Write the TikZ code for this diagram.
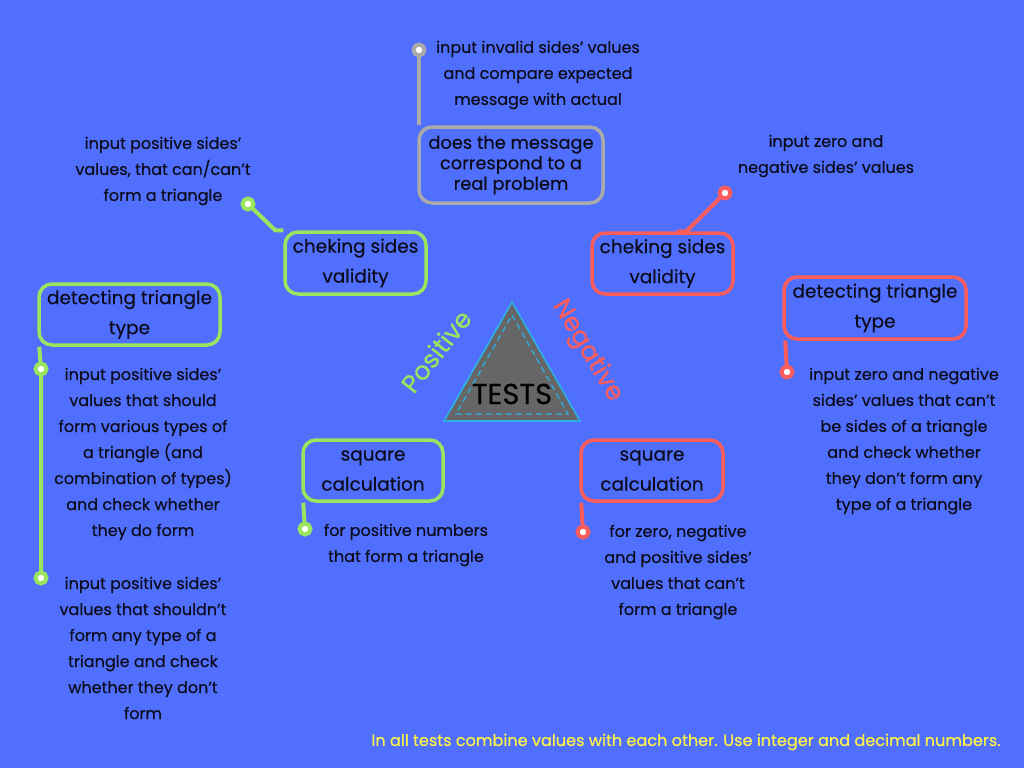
\documentclass[tikz,border=0pt]{standalone}
\usepackage{fontspec}
\setmainfont{Poppins}[FakeBold=0.4]
\definecolor{bgblue}{RGB}{80,111,253}
\definecolor{posgreen}{RGB}{155,228,94}
\definecolor{negred}{RGB}{252,92,92}
\definecolor{msggray}{RGB}{170,170,170}
\definecolor{ink}{RGB}{12,12,28}
\definecolor{trigray}{RGB}{102,102,102}
\definecolor{edgecyan}{RGB}{45,178,232}
\definecolor{hintyellow}{RGB}{255,242,70}
\newcommand{\boxfont}{\fontsize{18.5}{30}\selectfont}
\newcommand{\notefont}{\fontsize{16}{26}\selectfont}
\pgfdeclarelayer{backdrop}
\pgfdeclarelayer{links}
\pgfsetlayers{backdrop,links,main}
\tikzset{
  topic/.style={draw, line width=3.5pt, rounded corners=13pt, align=center,
    font=\boxfont, text=ink, inner sep=0pt},
  note/.style={align=center, font=\notefont, text=ink, inner sep=0pt},
  leaf/.style={circle, draw, line width=4pt, fill=white, minimum size=11pt, inner sep=0pt},
  link/.style={line width=4pt}
}
\begin{document}
\begin{tikzpicture}[x=1pt,y=-1pt]
\begin{pgfonlayer}{backdrop}
\fill[bgblue] (0,0) rectangle (1024,768);
\end{pgfonlayer}
\useasboundingbox (0,0) rectangle (1024,768);

% central triangle
\fill[trigray] (512,302) -- (580,421) -- (444,421) -- cycle;
\draw[edgecyan, line width=1.6pt, line join=miter] (512,302) -- (580,421) -- (444,421) -- cycle;
\draw[edgecyan, line width=1.2pt, dash pattern=on 6pt off 4pt] (512,315) -- (568,414) -- (456,414) -- cycle;
\node[font=\fontsize{29}{29}\selectfont, text=black] (tests) at (512,394) {TESTS};
\node[font=\fontsize{25.5}{25.5}\selectfont, text=posgreen, rotate=52] (positive) at (436,351) {Positive};
\node[font=\fontsize{25.5}{25.5}\selectfont, text=negred, rotate=-59] (negative) at (587,351) {Negative};

% message check (top)
\node[topic, draw=msggray, minimum width=184pt, minimum height=76pt,
  font=\fontsize{17.8}{20.5}\selectfont] (mbox) at (511,165) {does the message\\correspond to a\\real problem};
\node[leaf, draw=msggray] (mdot) at (419,50) {};
\node[note] (mtext) at (538,75) {input invalid sides' values\\and compare expected\\message with actual};

% positive: sides validity
\node[topic, draw=posgreen, minimum width=141pt, minimum height=62pt] (pvbox) at (355.5,263) {cheking sides\\validity};
\node[leaf, draw=posgreen] (pvdot) at (248,204) {};
\node[note] (pvtext) at (163,171) {input positive sides'\\values, that can/can't\\form a triangle};

% negative: sides validity
\node[topic, draw=negred, minimum width=141pt, minimum height=61pt] (nvbox) at (662.5,263.5) {cheking sides\\validity};
\node[leaf, draw=negred] (nvdot) at (725,193) {};
\node[note] (nvtext) at (826,156) {input zero and\\negative sides' values};

% positive: triangle type
\node[topic, draw=posgreen, minimum width=181pt, minimum height=61pt] (ptbox) at (129.5,314.5) {detecting triangle\\type};
\node[leaf, draw=posgreen] (ptdot1) at (41,369) {};
\node[leaf, draw=posgreen] (ptdot2) at (41,578) {};
\node[note] (pttext1) at (143,454) {input positive sides'\\values that should\\form various types of\\a triangle (and\\combination of types)\\and check whether\\they do form};
\node[note] (pttext2) at (143,648) {input positive sides'\\values that shouldn't\\form any type of a\\triangle and check\\whether they don't\\form};

% negative: triangle type
\node[topic, draw=negred, minimum width=182pt, minimum height=62pt] (ntbox) at (875,308) {detecting triangle\\type};
\node[leaf, draw=negred] (ntdot) at (787,372) {};
\node[note] (nttext) at (904,441) {input zero and negative\\sides' values that can't\\be sides of a triangle\\and check whether\\they don't form any\\type of a triangle};

% positive: square
\node[topic, draw=posgreen, minimum width=140pt, minimum height=61pt] (psbox) at (373,470.5) {square\\calculation};
\node[leaf, draw=posgreen] (psdot) at (305,529) {};
\node[note] (pstext) at (406,545) {for positive numbers\\that form a triangle};

% negative: square
\node[topic, draw=negred, minimum width=142pt, minimum height=61pt] (nsbox) at (652,470.5) {square\\calculation};
\node[leaf, draw=negred] (nsdot) at (583,532) {};
\node[note] (nstext) at (678,572) {for zero, negative\\and positive sides'\\values that can't\\form a triangle};

% connectors, kept beneath the boxes and dots
\begin{pgfonlayer}{links}
\draw[link, msggray] (mdot.center) -- (mdot |- mbox.north);
\draw[link, posgreen] (pvdot.center) -- ([xshift=-8pt]pvbox.north west) -- (pvbox.north west);
\draw[link, negred] (nvdot.center) -- ([xshift=24pt]nvbox.north) -- ([xshift=14pt]nvbox.north);
\draw[link, posgreen] ([xshift=2pt]ptbox.south west) -- (ptdot1.center) -- (ptdot2.center);
\draw[link, negred] ([xshift=3pt]ntbox.south west) -- (ntdot.center);
\draw[link, posgreen] ([xshift=2pt]psbox.south west) -- (psdot.center);
\draw[link, negred] ([xshift=2pt]nsbox.south west) -- (nsdot.center);
\end{pgfonlayer}

% footnote
\node[font=\fontsize{16.1}{16.1}\selectfont, text=hintyellow] (footer) at (686,742) {In all tests combine values with each other. Use integer and decimal numbers.};
\end{tikzpicture}
\end{document}
